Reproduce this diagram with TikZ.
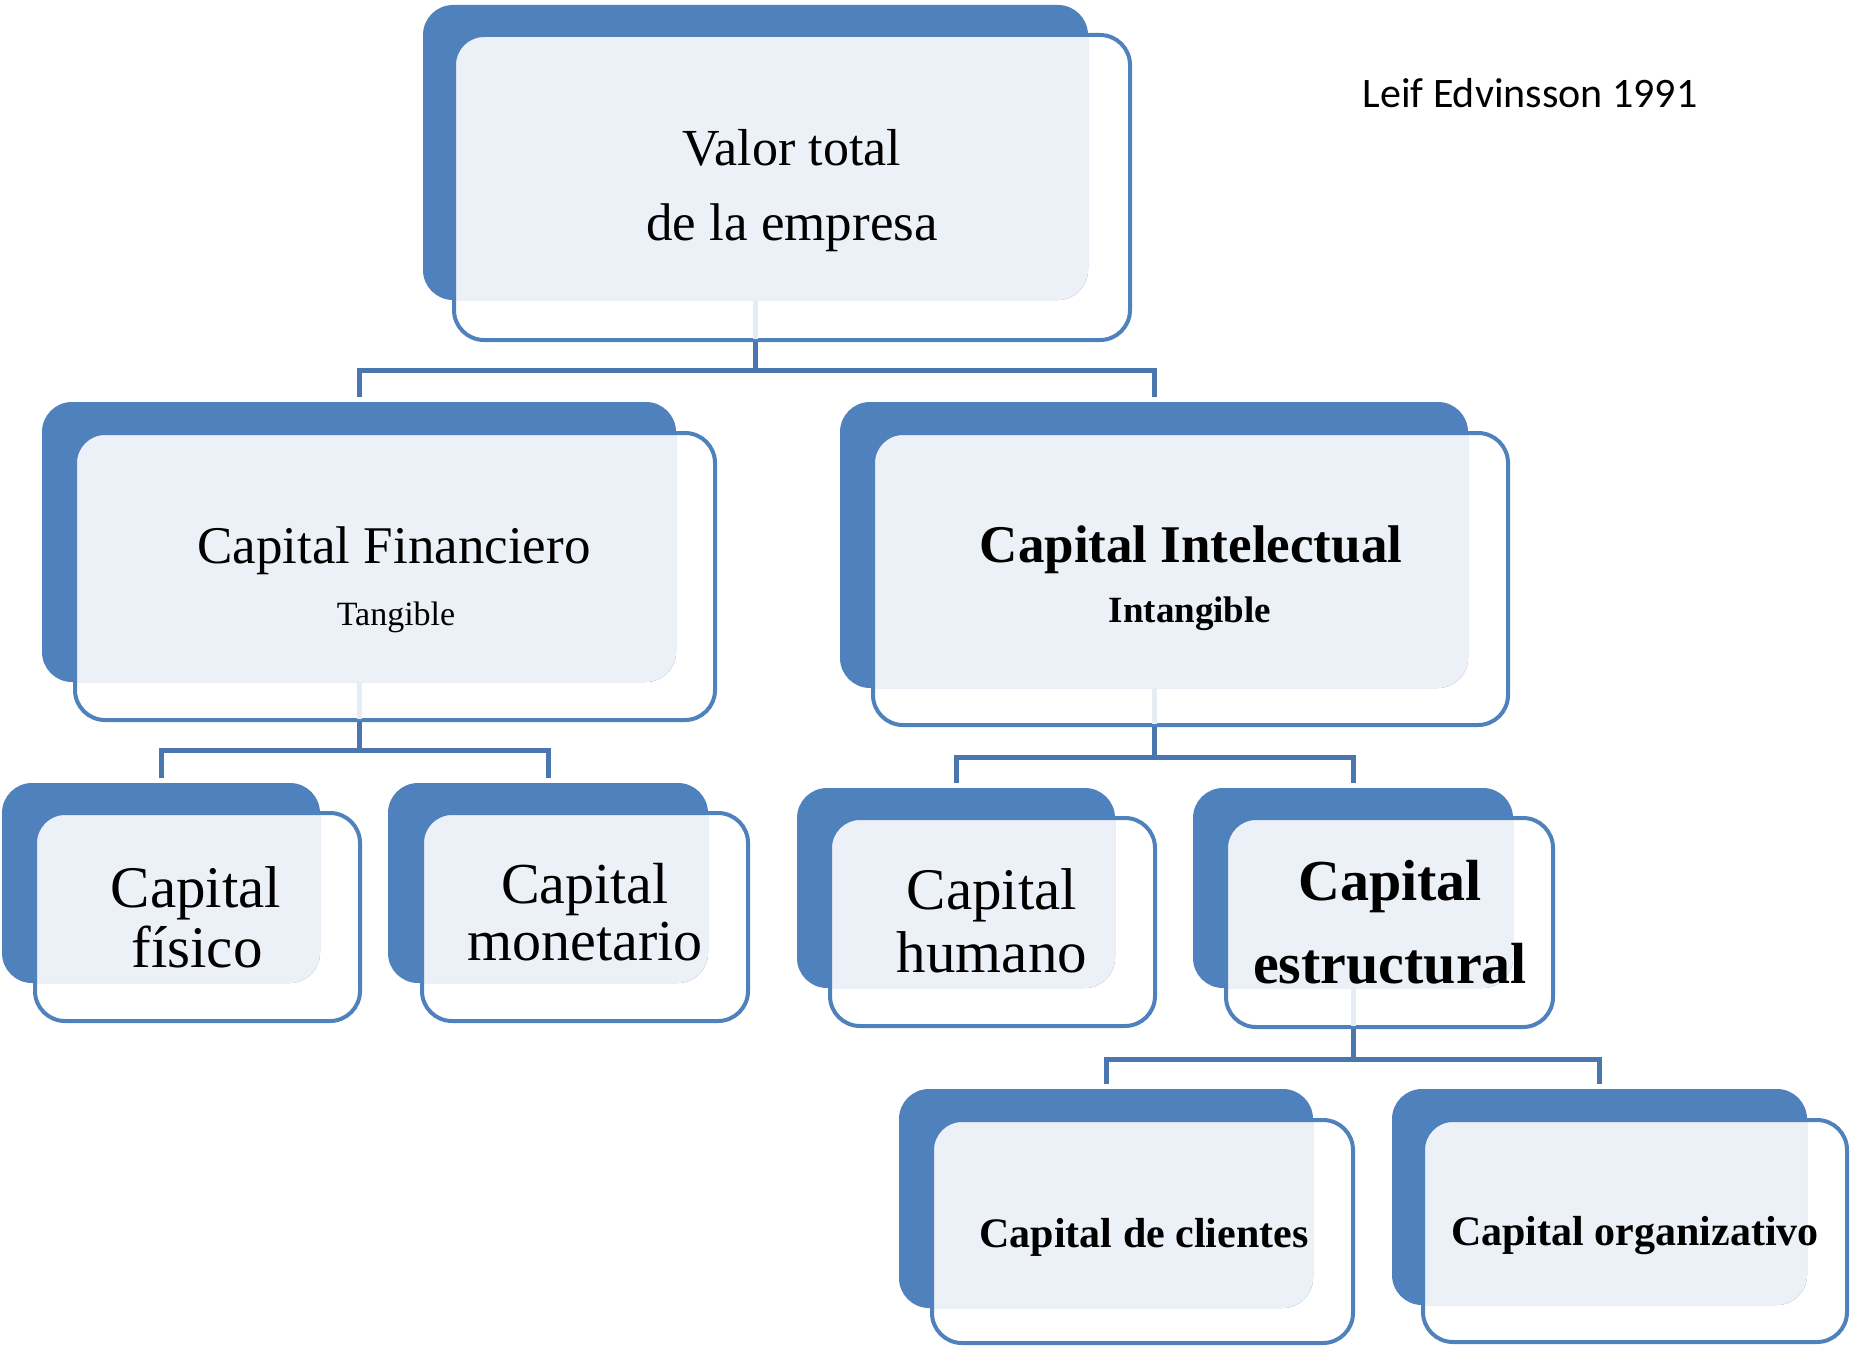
\documentclass[tikz,border=0pt]{standalone}
\usepackage{fontspec}
\setmainfont{Liberation Serif}
\newfontfamily\calibfont{Carlito}
\usetikzlibrary{fit}
\definecolor{backblue}{HTML}{4F81BD}
\definecolor{lightpanel}{HTML}{ECF0F7}
\definecolor{connblue}{HTML}{4A76AF}
\definecolor{faintblue}{HTML}{E6ECF4}
\tikzset{
  backfill/.style={fill=backblue},
  lightfill/.style={fill=lightpanel},
  frontbox/.style={draw=backblue, line width=4pt, rounded corners=30pt, inner sep=0pt},
  backnode/.style={inner sep=0pt},
  conn/.style={draw=connblue, line width=5pt},
  faintline/.style={draw=faintblue, line width=5pt},
  lbl/.style={anchor=base, inner sep=0pt, text=black}
}
\newcommand{\unitbox}[9]{%
  \fill[backfill, rounded corners=30pt] (#2,#3) rectangle (#4,#5);
  \begin{scope}
    \clip[rounded corners=30pt] (#6,#7) rectangle (#8,#9);
    \fill[lightfill, rounded corners=30pt] (#2,#3) rectangle (#4,#5);
  \end{scope}
  \node[backnode, fit={(#2,#3)(#4,#5)}] (#1b) {};
  \node[frontbox, fit={(#6,#7)(#8,#9)}] (#1) {};
}
\begin{document}
\begin{tikzpicture}[x=1pt, y=-1pt]
\useasboundingbox (0,0) rectangle (1851,1346);

% boxes
\unitbox{top}{423}{5}{1088}{300}{454}{35}{1130}{340}
\unitbox{cf}{42}{402}{676}{682}{75}{433}{715}{720}
\unitbox{ci}{840}{402}{1468}{688}{873}{433}{1508}{725}
\unitbox{fis}{2}{783}{320}{983}{35}{813}{360}{1021}
\unitbox{mon}{388}{783}{708}{983}{422}{813}{748}{1021}
\unitbox{hum}{797}{788}{1115}{988}{830}{818}{1155}{1026}
\unitbox{est}{1193}{788}{1513}{988}{1226}{818}{1553}{1027}
\unitbox{cli}{899}{1089}{1313}{1308}{932}{1120}{1353}{1343}
\unitbox{org}{1392}{1089}{1807}{1305}{1423}{1120}{1847}{1342}

% faint stubs inside parent boxes
\draw[faintline] (topb.south) -- ([yshift=3pt]topb.south |- top.south);
\draw[faintline] (cfb.south) -- ([yshift=3pt]cfb.south |- cf.south);
\draw[faintline] (cib.south) -- ([yshift=3pt]cib.south |- ci.south);
\draw[faintline] (estb.south) -- ([yshift=3pt]estb.south |- est.south);

% connectors
\draw[conn] (topb.south |- top.south) -- ++(0,28) coordinate (j1);
\draw[conn] (j1) -| ([yshift=5pt]cfb.north);
\draw[conn] (j1) -| ([yshift=5pt]cib.north);

\draw[conn] (cfb.south |- cf.south) -- ++(0,28) coordinate (j2);
\draw[conn] (j2) -| ([yshift=5pt]fisb.north);
\draw[conn] (j2) -| ([yshift=5pt]monb.north);

\draw[conn] (cib.south |- ci.south) -- ++(0,30) coordinate (j3);
\draw[conn] (j3) -| ([yshift=5pt]humb.north);
\draw[conn] (j3) -| ([yshift=5pt]estb.north);

\draw[conn] (estb.south |- est.south) -- ++(0,30) coordinate (j4);
\draw[conn] (j4) -| ([yshift=5pt]clib.north);
\draw[conn] (j4) -| ([yshift=5pt]orgb.north);

% labels
\node[lbl, font=\fontsize{52}{60}\selectfont] (t1a) at (792,165) {Valor total};
\node[lbl, font=\fontsize{53}{60}\selectfont] (t1b) at (792,240) {de la empresa};

\node[lbl, font=\fontsize{53}{60}\selectfont] (t2a) at (394,563) {Capital Financiero};
\node[lbl, font=\fontsize{34}{40}\selectfont] (t2b) at (396,625) {Tangible};

\node[lbl, font=\fontsize{53}{60}\bfseries\selectfont] (t3a) at (1191,562) {Capital Intelectual};
\node[lbl, font=\fontsize{37}{44}\bfseries\selectfont] (t3b) at (1190,622) {Intangible};

\node[lbl, font=\fontsize{59}{66}\selectfont] (t4a) at (196,907) {Capital};
\node[lbl, font=\fontsize{59}{66}\selectfont] (t4b) at (197,967) {físico};

\node[lbl, font=\fontsize{58}{66}\selectfont] (t5a) at (585,903) {Capital};
\node[lbl, font=\fontsize{58}{66}\selectfont] (t5b) at (585,960) {monetario};

\node[lbl, font=\fontsize{59}{66}\selectfont] (t6a) at (992,909) {Capital};
\node[lbl, font=\fontsize{59}{66}\selectfont] (t6b) at (992,972) {humano};

\node[lbl, font=\fontsize{58}{66}\bfseries\selectfont] (t7a) at (1390,900) {Capital};
\node[lbl, font=\fontsize{58}{66}\bfseries\selectfont] (t7b) at (1390,983) {estructural};

\node[lbl, font=\fontsize{42}{50}\bfseries\selectfont] (t8) at (1144,1247) {Capital de clientes};
\node[lbl, font=\fontsize{42}{50}\bfseries\selectfont] (t9) at (1635,1245) {Capital organizativo};

\node[lbl, font=\calibfont\fontsize{42}{50}\selectfont] (src) at (1530,107) {Leif Edvinsson 1991};
\end{tikzpicture}
\end{document}
